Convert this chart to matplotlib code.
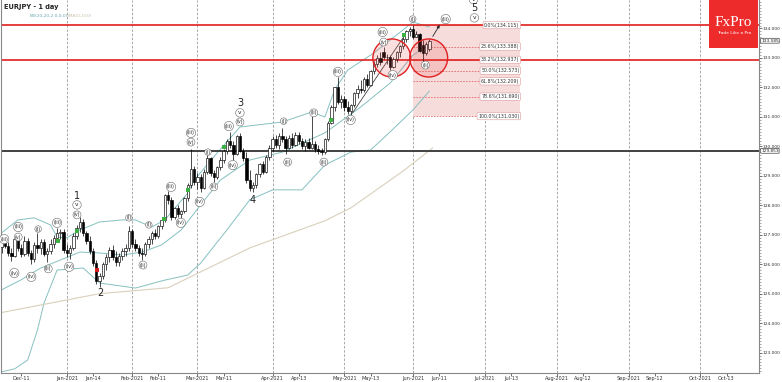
import numpy as np
import matplotlib
matplotlib.use("Agg")
import matplotlib.pyplot as plt
from matplotlib.patches import Rectangle, Ellipse

# daily candles, index = trading day since Dec 3 2020
opens = [126.60, 126.85, 126.62, 126.40, 126.30, 126.88, 126.55, 126.35, 126.80, 126.40,
         126.20, 126.65, 126.55, 126.75, 126.35, 126.45, 126.70, 126.90, 127.05, 127.10,
         126.50, 126.40, 126.55, 126.95, 127.25, 127.45, 127.05, 126.80, 126.45, 126.05,
         125.45, 125.60, 126.00, 126.25, 126.50, 126.25, 126.10, 126.30, 126.45, 126.55,
         127.15, 126.70, 126.55, 126.40, 126.35, 126.70, 126.85, 127.05, 126.95, 127.30,
         127.50, 128.35, 128.20, 127.60, 127.90, 127.70, 127.80, 128.25, 128.70, 129.25,
         128.80, 128.95, 128.60, 129.15, 129.60, 129.10, 128.95, 129.30, 129.55, 129.85,
         130.20, 130.05, 129.75, 130.35, 129.85, 129.60, 128.85, 128.60, 128.70, 129.05,
         129.40, 129.15, 129.65, 129.95, 130.25, 130.05, 130.35, 130.25, 129.95, 130.30,
         130.05, 130.40, 130.20, 130.00, 130.15, 129.95, 130.10, 129.90, 129.85, 129.80,
         130.25, 130.80, 131.35, 132.00, 131.50, 131.60, 131.35, 131.20, 131.40, 131.80,
         131.95, 131.90, 132.30, 132.10, 132.55, 132.80, 133.00, 133.20, 133.02, 133.05,
         132.70, 132.95, 133.20, 133.40, 133.65, 133.90, 133.98, 133.72, 133.80, 133.45,
         133.17, 133.30]
highs = [126.95, 126.98, 126.75, 126.55, 126.95, 127.05, 126.70, 126.95, 126.90, 126.50,
         126.75, 127.05, 126.85, 126.85, 126.55, 126.85, 127.00, 127.25, 127.20, 127.20,
         126.70, 126.65, 127.05, 127.35, 127.60, 127.55, 127.15, 126.95, 126.55, 126.15,
         125.70, 126.10, 126.35, 126.60, 126.65, 126.45, 126.40, 126.55, 126.70, 127.30,
         127.20, 126.85, 126.65, 126.55, 126.75, 126.95, 127.15, 127.20, 127.35, 127.55,
         128.40, 128.50, 128.30, 127.95, 128.00, 127.85, 128.30, 128.75, 129.90, 129.35,
         129.10, 129.05, 129.25, 129.70, 129.65, 129.20, 129.35, 129.65, 129.90, 130.25,
         130.48, 130.20, 130.40, 130.46, 129.95, 129.80, 129.20, 128.80, 129.10, 129.45,
         129.50, 129.70, 130.05, 130.35, 130.40, 130.45, 130.63, 130.35, 130.40, 130.45,
         130.50, 130.50, 130.30, 130.25, 130.30, 131.05, 130.20, 130.05, 129.95, 130.30,
         130.85, 131.40, 132.00, 132.35, 131.75, 131.70, 131.55, 131.45, 131.85, 132.10,
         132.25, 132.35, 132.45, 132.60, 132.90, 133.10, 133.20, 133.37, 133.15, 133.10,
         133.05, 133.25, 133.45, 133.70, 133.95, 134.05, 134.115, 133.92, 133.85, 133.60,
         133.55, 133.65]
lows = [126.40, 126.55, 126.30, 126.12, 126.25, 126.45, 126.25, 126.30, 126.30, 126.00,
        126.10, 126.40, 126.35, 126.30, 126.10, 126.35, 126.55, 126.75, 126.85, 126.40,
        126.25, 126.20, 126.50, 126.85, 127.10, 126.95, 126.70, 126.35, 125.95, 125.35,
        125.25, 125.50, 125.80, 126.10, 126.15, 125.95, 125.95, 126.15, 126.30, 126.45,
        126.60, 126.45, 126.30, 126.15, 126.30, 126.55, 126.70, 126.85, 126.90, 127.20,
        127.45, 128.05, 127.50, 127.55, 127.60, 127.55, 127.75, 128.15, 128.60, 128.70,
        128.55, 128.45, 128.55, 129.05, 129.00, 128.80, 128.90, 129.20, 129.45, 129.75,
        129.95, 129.55, 129.70, 129.80, 129.50, 128.75, 128.50, 128.45, 128.60, 128.95,
        129.05, 129.10, 129.55, 129.85, 129.95, 129.90, 130.15, 129.75, 129.90, 129.95,
        130.00, 130.10, 129.90, 129.85, 129.90, 129.90, 129.80, 129.75, 129.70, 129.75,
        130.20, 130.75, 131.20, 131.45, 131.30, 131.20, 131.10, 131.06, 131.35, 131.65,
        131.80, 131.85, 132.00, 132.05, 132.45, 132.70, 132.75, 132.95, 132.80, 132.59,
        132.65, 132.85, 133.05, 133.30, 133.55, 133.75, 133.65, 133.70, 133.20, 132.86,
        133.10, 133.25]
closes = [126.85, 126.62, 126.40, 126.30, 126.88, 126.55, 126.35, 126.80, 126.40, 126.20,
          126.65, 126.55, 126.75, 126.35, 126.45, 126.70, 126.90, 127.05, 127.10, 126.50,
          126.40, 126.55, 126.95, 127.25, 127.45, 127.05, 126.80, 126.45, 126.05, 125.45,
          125.60, 126.00, 126.25, 126.50, 126.25, 126.10, 126.30, 126.45, 126.55, 127.15,
          126.70, 126.55, 126.40, 126.35, 126.70, 126.85, 127.05, 126.95, 127.30, 127.50,
          128.35, 128.20, 127.60, 127.90, 127.70, 127.80, 128.25, 128.70, 129.25, 128.80,
          128.95, 128.60, 129.15, 129.60, 129.10, 128.95, 129.30, 129.55, 129.85, 130.20,
          130.05, 129.75, 130.35, 129.85, 129.60, 128.85, 128.60, 128.70, 129.05, 129.40,
          129.15, 129.65, 129.95, 130.25, 130.05, 130.35, 130.25, 129.95, 130.30, 130.05,
          130.40, 130.20, 130.00, 130.15, 129.95, 130.10, 129.90, 129.85, 129.80, 130.25,
          130.80, 131.35, 132.00, 131.50, 131.60, 131.35, 131.20, 131.40, 131.80, 131.95,
          131.90, 132.30, 132.10, 132.55, 132.80, 133.00, 132.85, 133.02, 133.05, 132.70,
          132.95, 133.20, 133.40, 133.65, 133.90, 133.98, 133.72, 133.80, 133.25, 133.17,
          133.48, 133.585]

# indicator lines (bar index, price)
bb_up_x = [0, 5, 10, 15, 17, 20, 24, 30, 37, 41, 46, 50, 57, 59, 66, 73, 86, 95, 99, 102, 106, 114, 119, 126, 131]
bb_up_y = [127.07, 127.51, 127.58, 127.34, 126.93, 126.90, 127.17, 127.44, 127.51, 127.51, 127.27, 127.51,
           128.42, 128.86, 129.78, 130.66, 130.83, 131.17, 131.00, 131.92, 132.59, 133.17, 133.61, 134.22, 134.05]
bb_mid_x = [0, 6, 12, 18, 24, 30, 37, 43, 49, 55, 61, 67, 76, 86, 99, 110, 119, 126, 131]
bb_mid_y = [125.14, 125.48, 125.88, 126.15, 126.42, 126.39, 126.32, 126.42, 126.66, 127.17, 128.02, 128.86,
            129.54, 129.81, 130.46, 131.34, 132.15, 133.10, 133.44]
bb_lo_x = [0, 4, 8, 11, 13, 17, 25, 30, 41, 50, 57, 61, 69, 76, 83, 92, 99, 107, 113, 118, 126, 131]
bb_lo_y = [122.36, 122.46, 122.76, 123.78, 124.69, 125.81, 125.88, 125.37, 125.20, 125.47, 125.64, 126.05,
           127.17, 128.19, 128.53, 128.53, 129.37, 129.81, 129.88, 130.39, 131.24, 131.88]
sma_x = [0, 30, 51, 76, 99, 107, 123, 132]
sma_y = [124.37, 125.01, 125.21, 126.56, 127.48, 127.92, 129.17, 129.95]

month_pos = [20, 40, 60, 83, 105, 126, 148, 170, 192, 214]
tick_pos = [6, 20, 28, 40, 48, 60, 68, 83, 91, 105, 113, 126, 134, 148, 156, 170, 178, 192, 200, 214, 222]
tick_lab = ["Dec-11", "Jan-2021", "Jan-14", "Feb-2021", "Feb-11", "Mar-2021", "Mar-11", "Apr-2021", "Apr-13",
            "May-2021", "May-13", "Jun-2021", "Jun-11", "Jul-2021", "Jul-13", "Aug-2021", "Aug-12",
            "Sep-2021", "Sep-12", "Oct-2021", "Oct-13"]

fib_pct = ["0.0%", "23.6%", "38.2%", "50.0%", "61.8%", "78.6%", "100.0%"]
fib_val = [134.115, 133.388, 132.937, 132.573, 132.209, 131.690, 131.030]

# wave labels (text, bar, price)
small_labels = [("(iii)", 0.8, 126.86), ("(iv)", 3.9, 125.71), ("(iii)", 5.1, 127.27), ("(v)", 5.1, 126.93),
                ("(i)", 11.2, 127.20), ("(iv)", 9.1, 125.58), ("(ii)", 14.3, 125.85), ("(iii)", 17.0, 127.41),
                ("(iv)", 20.7, 125.92), ("(v)", 23.1, 127.68), ("(i)", 39.0, 127.58), ("(ii)", 43.3, 125.98),
                ("(i)", 45.1, 127.34), ("(iii)", 51.9, 128.63), ("(iv)", 54.9, 127.41), ("(iii)", 58.0, 130.46),
                ("(v)", 58.0, 130.15), ("(iv)", 60.7, 128.12), ("(i)", 63.2, 129.81), ("(ii)", 65.0, 128.63),
                ("(iii)", 69.6, 130.69), ("(iv)", 70.8, 129.37), ("(v)", 73.0, 130.83), ("(i)", 86.4, 130.86),
                ("(ii)", 87.6, 129.47), ("(ii)", 95.6, 131.14), ("(ii)", 98.7, 129.47), ("(iii)", 103.0, 132.53),
                ("(iv)", 106.9, 130.90), ("(iii)", 116.7, 133.88), ("(v)", 117.0, 133.54), ("(iv)", 119.8, 132.42),
                ("(i)", 125.9, 134.32), ("(ii)", 129.8, 132.76), ("(iii)", 136.0, 134.32)]
big_labels = [("1", 23.1, 128.32), ("2", 30.2, 125.03), ("3", 73.0, 131.47), ("4", 77.0, 128.19), ("5", 144.8, 134.69)]
big_circles = [(23.1, 128.02), (73.0, 131.14), (144.8, 134.36), (144.5, 134.98)]
green_x = [17.3, 23.1, 49.7, 57.1, 68.1, 100.8, 123.1]
green_y = [126.80, 127.14, 127.54, 128.53, 129.98, 130.90, 133.78]

fig = plt.figure(figsize=(7.82, 3.82), dpi=100)
ax = fig.add_axes([0.0015, 9 / 382, 758 / 782, 373 / 382])
ax.set_xlim(-0.12, 232.0)
ax.set_ylim(122.32, 134.966)

for m in month_pos:
    ax.axvline(m, color="#999999", lw=0.6, ls=(0, (3, 2)), zorder=0)

# fibonacci box
f0, f1 = 126, 158.8
ax.add_patch(Rectangle((f0, fib_val[-1]), f1 - f0, fib_val[0] - fib_val[-1], fc="#f7dcdc", ec="none", zorder=0.5))
for p, v in zip(fib_pct, fib_val):
    ax.plot([f0, f1], [v, v], color="#e26a6a", lw=0.6, ls=(0, (2, 1.5)), zorder=0.6)
    ax.text(f1 - 0.2, v, f"{p}({v:.3f})", fontsize=3.4, ha="right", va="center", color="#333", zorder=5,
            bbox=dict(boxstyle="round,pad=0.25", fc="white", ec="#d99", lw=0.4))

# indicators
ax.plot(bb_up_x, bb_up_y, color="#86c0c0", lw=0.7, zorder=1)
ax.plot(bb_mid_x, bb_mid_y, color="#86c0c0", lw=0.7, zorder=1)
ax.plot(bb_lo_x, bb_lo_y, color="#86c0c0", lw=0.7, zorder=1)
ax.plot(sma_x, sma_y, color="#d8d0bb", lw=0.8, zorder=1)

# horizontal levels
ax.axhline(134.115, color="#e0201c", lw=1.2, zorder=2)
ax.axhline(132.937, color="#e0201c", lw=1.2, zorder=2)
ax.axhline(129.853, color="#333333", lw=1.3, zorder=2)

# candles
o = np.array(opens); h = np.array(highs); l = np.array(lows); c = np.array(closes)
idx = np.arange(len(o))
ax.vlines(idx, l, h, color="black", lw=0.5, zorder=3)
up = c >= o
ax.bar(idx[up], np.maximum(c[up] - o[up], 0.02), bottom=o[up], width=0.72, fc="white", ec="black", lw=0.45, zorder=4)
ax.bar(idx[~up], o[~up] - c[~up], bottom=c[~up], width=0.72, fc="black", ec="black", lw=0.45, zorder=4)
ax.scatter(green_x, green_y, s=6, c="#3cb043", marker="s", zorder=5, lw=0)
ax.scatter([29.2], [125.81], s=6, c="#d02020", marker="s", zorder=5, lw=0)

# trendline + arrow
ax.plot([107.5, 123.1], [131.14, 133.71], color="#444", lw=0.6, zorder=3)
ax.annotate("", xy=(134.6, 134.2), xytext=(131.6, 133.65),
            arrowprops=dict(arrowstyle="-|>", color="#222", lw=0.6, mutation_scale=4), zorder=5)

# red circles
for cx in [119.5, 130.8]:
    ax.add_patch(Ellipse((cx, 133.0), 11.6, 1.29, fc=(0.93, 0.3, 0.3, 0.18), ec="#e02020", lw=1.0, zorder=6))

for t, x, y in small_labels:
    ax.text(x, y, t, fontsize=3.4, ha="center", va="center", color="#222", zorder=7,
            bbox=dict(boxstyle="circle,pad=0.15", fc="white", ec="#666", lw=0.4))
for x, y in big_circles:
    ax.text(x, y, "v", fontsize=4.2, ha="center", va="center", color="#222", zorder=7,
            bbox=dict(boxstyle="circle,pad=0.3", fc="white", ec="#666", lw=0.4))
for t, x, y in big_labels:
    ax.text(x, y, t, fontsize=7, ha="center", va="center", color="#222", zorder=7)

# axes styling
ax.spines["top"].set_visible(False)
for s in ["left", "right", "bottom"]:
    ax.spines[s].set_color("#888")
    ax.spines[s].set_linewidth(0.8)
ax.yaxis.tick_right()
ax.set_yticks(np.arange(123, 135))
ax.set_yticklabels([f"{v:.3f}" for v in np.arange(123, 135)])
ax.set_yticks(np.arange(122.4, 135, 0.1), minor=True)
ax.tick_params(axis="y", which="major", labelsize=3.2, length=2, width=0.5, pad=0.4, colors="#333")
ax.tick_params(axis="y", which="minor", length=1.2, width=0.4, colors="#666")
ax.set_xticks(tick_pos)
ax.set_xticklabels(tick_lab)
ax.tick_params(axis="x", labelsize=3.6, length=2, width=0.5, pad=0.5, colors="#333")

for v in [133.585, 129.853]:
    ax.text(1.0025, (v - 122.32) / (134.966 - 122.32), f"{v:.3f}", transform=ax.transAxes, fontsize=3.1,
            ha="left", va="center", color="#222",
            bbox=dict(boxstyle="round,pad=0.1", fc="white", ec="#444", lw=0.5), clip_on=False, zorder=8)

ax.text(0.004, 0.988, "EURJPY - 1 day", transform=ax.transAxes, fontsize=4.8, fontweight="bold",
        ha="left", va="top", color="#222")
ax.text(0.038, 0.962, "BB(20,20,2.0,0,0)", transform=ax.transAxes, fontsize=3.2, ha="left", va="top", color="#6aa9b0")
ax.text(0.087, 0.962, "SMA(0,150)", transform=ax.transAxes, fontsize=3.2, ha="left", va="top", color="#c8c0a8")

# logo
ax.add_patch(Rectangle((708 / 758, 1 - 48 / 373), 49 / 758, 48 / 373, transform=ax.transAxes,
                       fc="#ee2b2b", ec="none", zorder=9))
ax.text(732.5 / 758, 1 - 22 / 373, "FxPro", transform=ax.transAxes, fontsize=11, family="Liberation Serif",
        color="white", ha="center", va="center", zorder=10)
ax.text(732.5 / 758, 1 - 33 / 373, "Trade Like a Pro", transform=ax.transAxes, fontsize=3.2,
        color="white", ha="center", va="center", zorder=10)

fig.savefig("out.png", dpi=100)
